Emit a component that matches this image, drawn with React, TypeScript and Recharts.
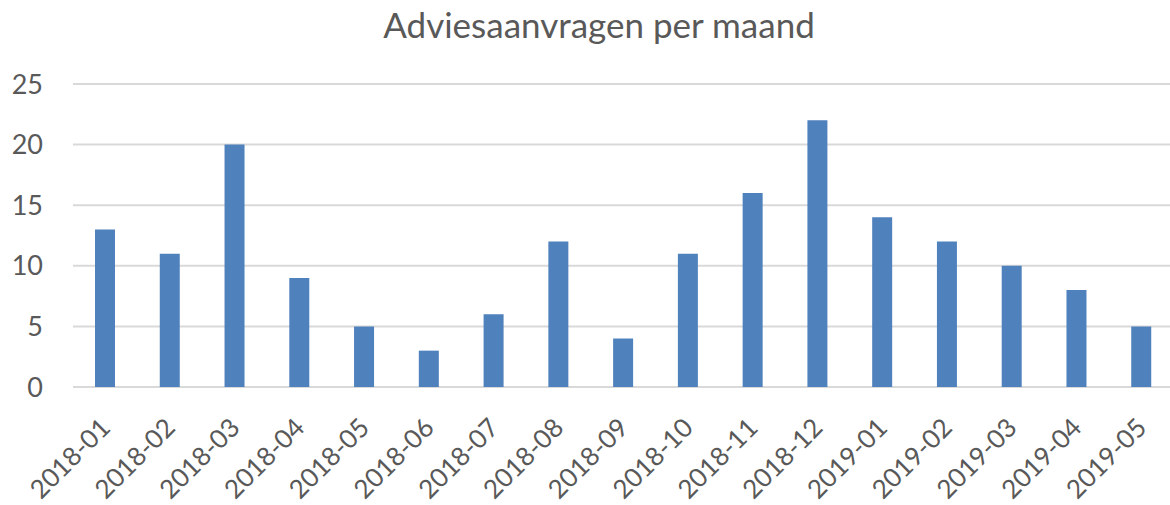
import { BarChart, Bar, XAxis, YAxis, CartesianGrid } from 'recharts'

const months = [
  '2018-01', '2018-02', '2018-03', '2018-04', '2018-05', '2018-06',
  '2018-07', '2018-08', '2018-09', '2018-10', '2018-11', '2018-12',
  '2019-01', '2019-02', '2019-03', '2019-04', '2019-05',
]
const requests = [13, 11, 20, 9, 5, 3, 6, 12, 4, 11, 16, 22, 14, 12, 10, 8, 5]
const yTicks = [0, 5, 10, 15, 20, 25]

const data = months.map((m, i) => ({ month: m, count: requests[i] }))

const FONT = 'Lato, "Open Sans", sans-serif'
const TEXT = '#595959'

const MonthTick = (props: any) => {
  const { x, y, payload } = props
  return (
    <text
      x={x}
      y={y}
      transform={`rotate(-45, ${x}, ${y})`}
      textAnchor="end"
      dy="0.35em"
      fill={TEXT}
      fontSize={26}
      fontFamily={FONT}
    >
      {payload.value}
    </text>
  )
}

export default function App() {
  return (
    <div
      style={{
        position: 'fixed',
        left: 0,
        top: 0,
        width: 1170,
        height: 505,
        overflow: 'hidden',
        background: '#fff',
      }}
    >
      <div
        style={{
          position: 'absolute',
          left: 0,
          top: 3,
          width: 1198,
          textAlign: 'center',
          fontFamily: FONT,
          fontSize: 35,
          lineHeight: '42px',
          color: TEXT,
        }}
      >
        Adviesaanvragen per maand
      </div>
      <BarChart
        width={1176}
        height={505}
        data={data}
        margin={{ top: 84, right: 2, left: 0, bottom: 0 }}
        barSize={20}
      >
        <CartesianGrid vertical={false} stroke="#d9d9d9" strokeWidth={2} />
        <XAxis
          dataKey="month"
          axisLine={false}
          tickLine={false}
          interval={0}
          height={118}
          tickMargin={30}
          tick={<MonthTick />}
        />
        <YAxis
          width={73}
          domain={[0, 25]}
          ticks={yTicks}
          axisLine={false}
          tickLine={false}
          tickSize={0}
          tickMargin={30}
          tick={{ fill: TEXT, fontSize: 27, fontFamily: FONT }}
        />
        <Bar dataKey="count" fill="#4f81bd" isAnimationActive={false} />
      </BarChart>
    </div>
  )
}
